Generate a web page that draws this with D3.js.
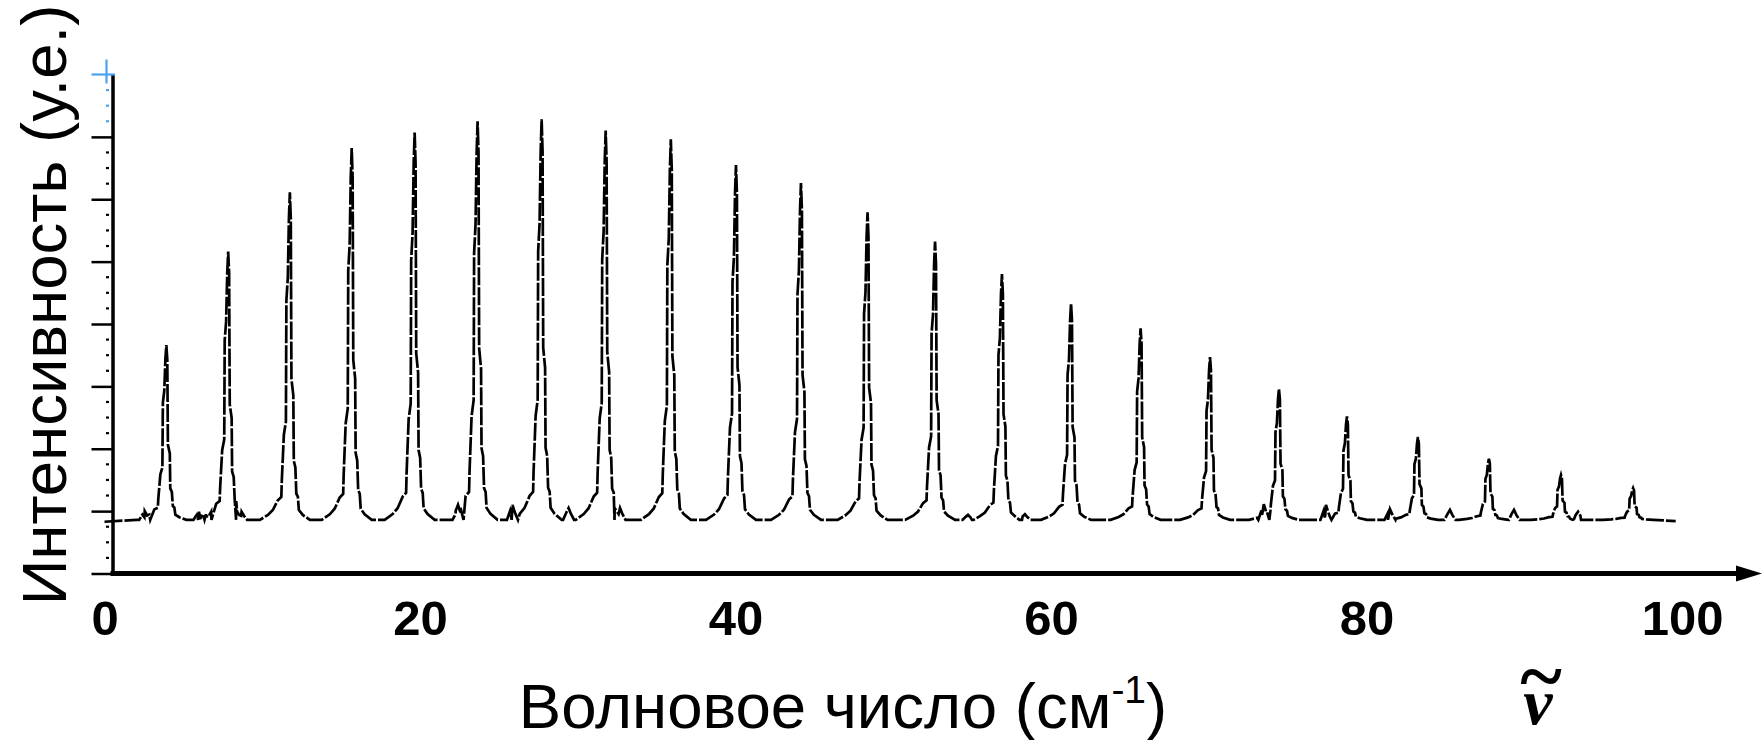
<!DOCTYPE html>
<html>
<head>
	<meta charset="utf-8">
	<title>Вращательный спектр</title>
	<script src="https://cdn.jsdelivr.net/npm/d3@7"></script>
	<style type="text/css">
		body{ margin:0; background:#fff; }
		svg{ display:block; }
	</style>
</head>
<body>
	<div id="chart"></div>
	<script type="text/javascript">
	// line centres (cm-1) and line tops (arb. units)
	var peakPos = [3.92, 7.84, 11.75, 15.67, 19.66, 23.65, 27.71, 31.77, 35.90, 40.03, 44.15, 48.37,
		52.65, 56.89, 61.27, 65.68, 70.08, 74.45, 78.76, 83.26, 87.76, 92.33, 96.90];
	var peakTop = [3.66, 5.16, 6.11, 6.82, 7.07, 7.25, 7.28, 7.10, 6.96, 6.55, 6.26, 5.79,
		5.32, 4.80, 4.33, 3.93, 3.47, 2.96, 2.52, 2.19, 1.84, 1.58, 1.37];

	// the small bumps sitting on the baseline
	var bumpPos = [2.55, 5.99, 6.43, 8.69, 22.41, 25.86, 29.42, 32.68, 54.74, 58.35, 73.49, 77.43, 81.49, 85.29, 89.35, 93.41];
	var bumpTop = [1.00, 0.99, 0.95, 0.99, 1.10, 1.10, 1.05, 1.05, 0.94, 0.95, 1.11, 1.10, 1.03, 1.02, 1.02, 0.99];

	var baseLevel = 0.86;
	var lineStart = [0, 0.83];
	var lineEnd = [99.6, 0.84];

	// shape of one line as traced on the picture: offset from centre and share of the height
	var shapeDx = [-1.90, -1.39, -1.08, -0.76, -0.54, -0.51, -0.38, -0.25, -0.22, -0.13, -0.06, 0,
		0.06, 0.10, 0.22, 0.25, 0.35, 0.41, 0.51, 0.57, 0.82, 1.27];
	var shapeFrac = [0, 0.015, 0.03, 0.06, 0.07, 0.12, 0.26, 0.30, 0.67, 0.74, 0.92, 1,
		0.92, 0.43, 0.38, 0.18, 0.16, 0.08, 0.07, 0.03, 0.015, 0];
	var bumpDx = [-0.35, -0.15, 0, 0.15, 0.35];
	var bumpFrac = [0, 0.6, 1, 0.5, 0];

	var xTicks = [0, 20, 40, 60, 80, 100];
	var yMajor = [0, 1, 2, 3, 4, 5, 6, 7];
	var xTitle = 'Волновое число (см';
	var xTitleSup = '-1';
	var yTitle = 'Интенсивность (у.е.)';

	var w = 1762;
	var h = 740;

	var svg = d3.select('#chart')
		.append('svg')
		.attr('width', w)
		.attr('height', h);

	var x = d3.scaleLinear().domain([0, 100]).range([104.5, 1682]);
	var y = d3.scaleLinear().domain([0, 8]).range([573.5, 74.5]);
	var axisX = 112.5; //where the vertical axis stands

	//put every traced point of the spectrum together
	var spectrum = [lineStart, lineEnd];
	peakPos.forEach(function(p, i){
		shapeDx.forEach(function(dx, k){
			spectrum.push([p + dx, baseLevel + shapeFrac[k] * (peakTop[i] - baseLevel)]);
		});
	});
	bumpPos.forEach(function(p, i){
		bumpDx.forEach(function(dx, k){
			spectrum.push([p + dx, baseLevel + bumpFrac[k] * (bumpTop[i] - baseLevel)]);
		});
	});
	spectrum.sort(function(a, b){ return a[0] - b[0]; });

	//y axis with long ticks
	var yAxis = d3.axisLeft(y)
		.tickValues(yMajor)
		.tickSize(21)
		.tickSizeOuter(0)
		.tickFormat('');
	var gy = svg.append('g')
		.attr('transform', 'translate(' + axisX + ',0)')
		.call(yAxis);
	gy.select('.domain').attr('stroke', '#000').attr('stroke-width', 3.5);
	gy.selectAll('.tick line').attr('stroke', '#000').attr('stroke-width', 2.5);

	//minor ticks are only small dots left of the axis
	svg.append('g').selectAll('line')
		.data(d3.range(0.25, 8, 0.25).filter(function(d){ return d % 1 !== 0; }))
		.enter()
		.append('line')
		.attr('x1', axisX - 6.5)
		.attr('x2', axisX - 3.5)
		.attr('y1', function(d){ return y(d); })
		.attr('y2', function(d){ return y(d); })
		.attr('stroke', function(d){ return d > 7 ? '#4aa3f0' : '#000'; })
		.attr('stroke-width', 2.2);

	//blue cross on top of the axis
	svg.append('line')
		.attr('x1', axisX - 21).attr('x2', axisX + 2.5)
		.attr('y1', y(8)).attr('y2', y(8))
		.attr('stroke', '#4aa3f0').attr('stroke-width', 2.2);
	svg.append('line')
		.attr('x1', axisX - 6).attr('x2', axisX - 6)
		.attr('y1', y(8) - 15).attr('y2', y(8) + 9)
		.attr('stroke', '#4aa3f0').attr('stroke-width', 2.2);

	//x axis: thick line with an arrow, labels only
	svg.append('line')
		.attr('x1', axisX - 2)
		.attr('x2', w - 22)
		.attr('y1', y(0))
		.attr('y2', y(0))
		.attr('stroke', '#000')
		.attr('stroke-width', 5);
	svg.append('path')
		.attr('d', 'M' + (w - 26) + ',' + (y(0) - 8) + 'L' + w + ',' + y(0) + 'L' + (w - 26) + ',' + (y(0) + 8) + 'Z')
		.attr('fill', '#000');

	var xAxis = d3.axisBottom(x)
		.tickValues(xTicks)
		.tickSize(0)
		.tickFormat(d3.format('d'));
	var gx = svg.append('g')
		.attr('transform', 'translate(0,' + y(0) + ')')
		.call(xAxis);
	gx.select('.domain').remove();
	gx.selectAll('.tick text')
		.attr('y', 61.5)
		.attr('dy', 0)
		.attr('fill', '#000')
		.attr('font-family', 'Liberation Sans, Arial, sans-serif')
		.attr('font-weight', 'bold')
		.attr('font-size', 49);

	//the spectrum itself
	var line = d3.line()
		.x(function(d){ return x(d[0]); })
		.y(function(d){ return y(d[1]); });
	svg.append('path')
		.datum(spectrum)
		.attr('d', line)
		.attr('fill', 'none')
		.attr('stroke', '#000')
		.attr('stroke-width', 2.7)
		.attr('stroke-dasharray', '18 2');

	//titles
	var xt = svg.append('text')
		.attr('x', 843)
		.attr('y', 728)
		.attr('text-anchor', 'middle')
		.attr('font-family', 'Liberation Sans, Arial, sans-serif')
		.attr('font-size', 63.5)
		.attr('fill', '#000');
	xt.append('tspan').text(xTitle);
	xt.append('tspan').attr('dy', -25).attr('font-size', 39).text(xTitleSup);
	xt.append('tspan').attr('dy', 25).text(')');

	svg.append('text')
		.attr('transform', 'translate(66,305) rotate(-90)')
		.attr('text-anchor', 'middle')
		.attr('font-family', 'Liberation Sans, Arial, sans-serif')
		.attr('font-size', 63.5)
		.attr('fill', '#000')
		.text(yTitle);

	//nu with tilde, one text element
	var nu = svg.append('text')
		.attr('text-anchor', 'middle')
		.attr('font-family', 'Liberation Serif, Times New Roman, serif')
		.attr('font-weight', 'bold')
		.attr('fill', '#000');
	nu.append('tspan')
		.attr('x', 1538)
		.attr('y', 724)
		.attr('font-style', 'italic')
		.attr('font-size', 66)
		.text('ν');
	nu.append('tspan')
		.attr('x', 1541)
		.attr('y', 703)
		.attr('font-size', 80)
		.text('~');
	</script>
</body>
</html>
